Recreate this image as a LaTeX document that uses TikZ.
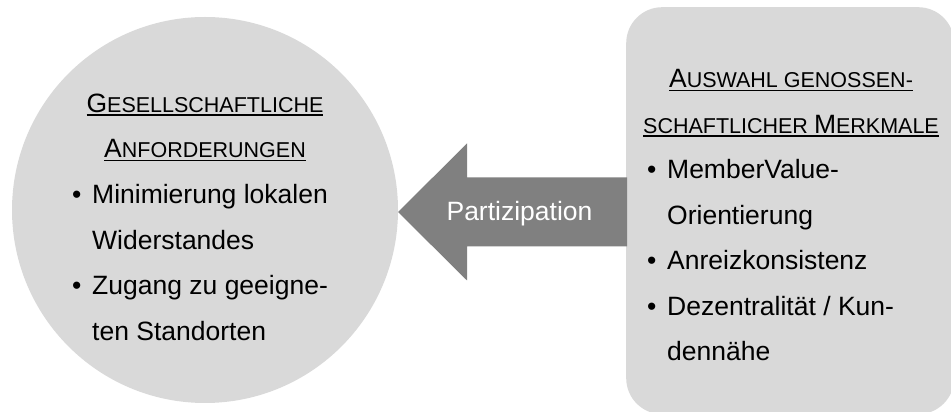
\documentclass[tikz,border=0pt]{standalone}
\usepackage{fontspec}
\setmainfont{Liberation Sans}
\usetikzlibrary{positioning}

\newcommand\smc[1]{{\fontsize{21.5}{45.5}\selectfont #1}}
\newcommand\hdline[1]{\leavevmode\vtop{\hbox{#1}\kern1.6pt\hrule height 1.2pt}}
\newcommand\bul{\makebox[20pt][l]{\textbullet}}
\newcommand\ind{\hspace*{20pt}}

\begin{document}
\begin{tikzpicture}[
            x=1pt, y=1pt,
            font=\fontsize{26.5}{45.5}\selectfont,
            blob/.style={circle, fill=gray!30, minimum size=386pt, inner sep=0pt},
            panel/.style={rectangle, fill=gray!30, rounded corners=36pt, minimum width=328pt, minimum height=407pt, inner sep=0pt},
            head/.style={align=center, inner sep=0pt, anchor=base},
            items/.style={align=left, inner sep=0pt, anchor=base west},
            bigarrow/.style={fill=gray}
        ]
        \useasboundingbox (0,0) rectangle (951,412);

        \node (soc) [blob] at (205,202) {};
        \node (feat) [panel, anchor=north west] at (626,405) {};

        % Pfeil
        \coordinate (tip) at (398,200);
        \fill [bigarrow] (tip) -- ++(69,68.5) -- ++(0,-34) -- ++(160,0) -- ++(0,-69) -- ++(-160,0) -- ++(0,-34) -- cycle;
        \node (part) [text=white, anchor=base, inner sep=0pt] at (519.5,191) {Partizipation};

        % base = Grundlinie der letzten Zeile
        \node (socHead) [head] at (soc.center |- 0,254)
            {\hdline{G\smc{ESELLSCHAFTLICHE}}\\\hdline{A\smc{NFORDERUNGEN}}};
        \node (socList) [items] at (72,71.5)
            {\bul Minimierung lokalen\\\ind Widerstandes\\\bul Zugang zu geeigne-\\\ind ten Standorten};

        \node (featHead) [head] at (791,278.5)
            {\hdline{A\smc{USWAHL GENOSSEN-}}\\\hdline{\smc{SCHAFTLICHER }M\smc{ERKMALE}}};
        \node (featList) [items] at (647,51)
            {\bul MemberValue-\\\ind Orientierung\\\bul Anreizkonsistenz\\\bul Dezentralität / Kun-\\\ind dennähe};
\end{tikzpicture}
\end{document}
